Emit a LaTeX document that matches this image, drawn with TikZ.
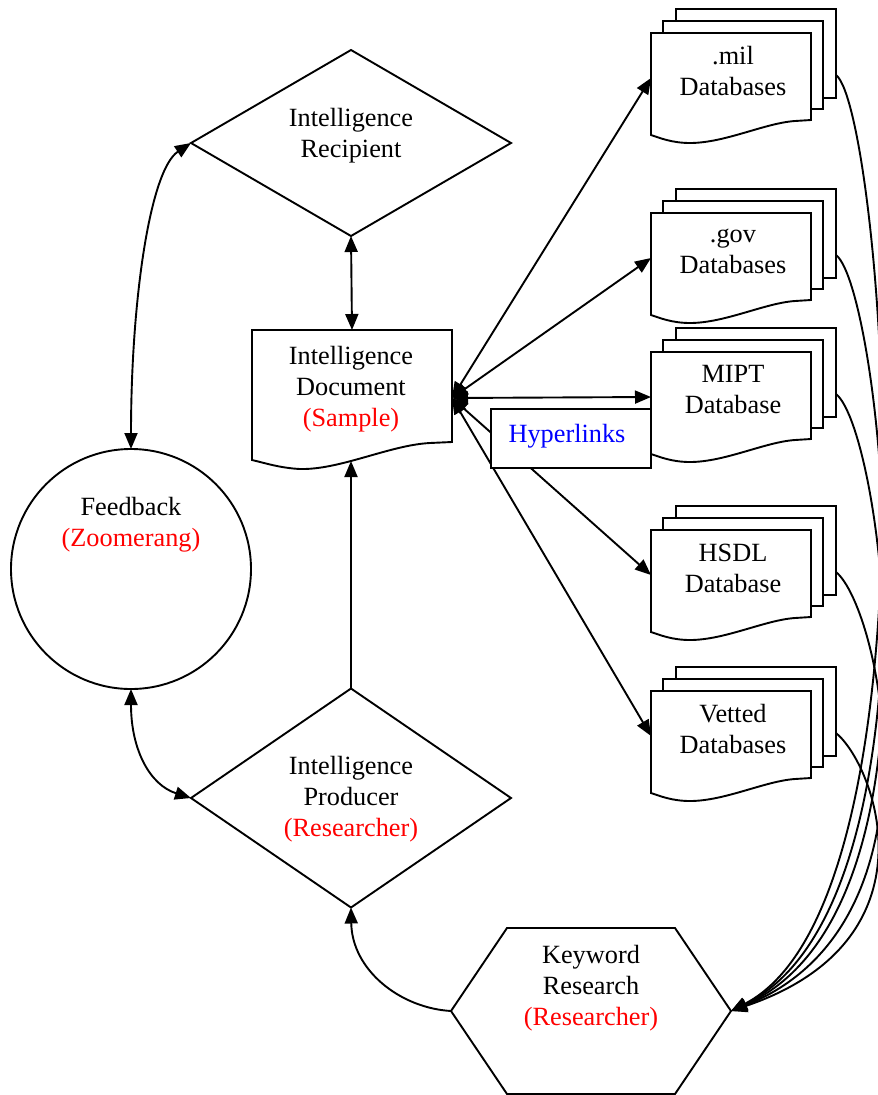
\documentclass[tikz,border=0pt]{standalone}
\usepackage{fontspec}
\setmainfont{Liberation Serif}
\usetikzlibrary{arrows.meta,shapes.geometric}

\tikzset{
  shapeline/.style={draw=black, line width=1.9pt, fill=white, line join=miter},
  conn/.style={draw=black, line width=1.9pt},
  txt/.style={align=center, font=\fontsize{26.3}{31}\selectfont, inner sep=0pt},
  ghost/.style={inner sep=0pt, outer sep=0pt},
}

% a stack of three document pages with a caption on the front page
\newcommand\dbstack[3]{%
  \draw[shapeline] (676,{9+#2}) rectangle (836,{98+#2});
  \draw[shapeline] (663,{21+#2}) rectangle (823,{109+#2});
  \draw[shapeline] (651,{33+#2}) -- (811,{33+#2}) -- (811,{120+#2}) -- (795,{121+#2})
     .. controls (765,{123+#2}) and (725,{143+#2}) .. (690,{143+#2})
     .. controls (672,{143+#2}) and (660,{138+#2}) .. (651,{135+#2}) -- cycle;
  \node[txt] (#1) at (733,{71+#2}) {#3};
  \coordinate (#1-in) at (651,{78+#2});
  \coordinate (#1-out) at (836,{75+#2});
}

\begin{document}
\begin{tikzpicture}[x=1pt, y=-1pt, >={Triangle[length=16pt,width=13pt]}]
\path[use as bounding box, clip] (0,0) rectangle (878,1095);

% ---- shapes ----
\node[ghost, diamond, shapeline, minimum width=320pt, minimum height=186pt] (recip) at (351,143) {};
\node[txt] at (351,136) {Intelligence\\Recipient};

\node[ghost, minimum width=200pt, minimum height=130pt] (doc) at (352,395) {};
\draw[shapeline] (252,330) -- (452,330) -- (452,442) -- (430,443)
   .. controls (390,445) and (340,470) .. (300,469)
   .. controls (280,468) and (265,463) .. (252,460) -- cycle;
\node[txt] at (351,389) {Intelligence\\Document\\\textcolor{red}{(Sample)}};
\coordinate (docR) at (452,398);
\coordinate (docB) at (351,461);

\node[ghost, circle, shapeline, minimum size=240pt] (fb) at (131,569) {};
\node[txt] at (131,525) {Feedback\\\textcolor{red}{(Zoomerang)}};

\node[ghost, diamond, shapeline, minimum width=320pt, minimum height=219pt] (prod) at (351,798) {};
\node[txt] at (351,799) {Intelligence\\Producer\\\textcolor{red}{(Researcher)}};

\draw[shapeline] (451,1011) -- (507,928) -- (675,928) -- (731,1011) -- (675,1094) -- (507,1094) -- cycle;
\node[txt] (kw) at (591,988) {Keyword\\Research\\\textcolor{red}{(Researcher)}};
\coordinate (kwL) at (451,1011);
\coordinate (kwR) at (731,1011);

\dbstack{mil}{0}{.mil\\Databases}
\dbstack{gov}{180}{.gov\\Databases}
\dbstack{mipt}{319}{MIPT\\Database}
\dbstack{hsdl}{497}{HSDL\\Database}
\dbstack{vet}{658}{Vetted\\Databases}

% ---- connectors ----
\draw[conn,<->] (recip.south) -- (doc.north);
\draw[conn,->] (prod.north) -- (docB);
\draw[conn,<->] (fb.north) .. controls (131,300) and (150,170) .. (recip.west);
\draw[conn,<->] (fb.south) .. controls (131,750) and (150,785) .. (prod.west);
\draw[conn,->] (kwL) .. controls (400,1008) and (352,970) .. (prod.south);

\foreach \d in {mil,gov,mipt,hsdl,vet}
  \draw[conn,<->] (docR) -- (\d-in);

\draw[conn,->] (mil-out)  .. controls (882,110) and (945,900) .. (kwR);
\draw[conn,->] (gov-out)  .. controls (882,290) and (948,905) .. (kwR);
\draw[conn,->] (mipt-out) .. controls (882,430) and (948,915) .. (kwR);
\draw[conn,->] (hsdl-out) .. controls (880,608) and (948,925) .. (kwR);
\draw[conn,->] (vet-out)  .. controls (875,765) and (940,940) .. (kwR);

% ---- hyperlink label box on top of the fan of connectors ----
\node[shapeline, ghost, minimum width=160pt, minimum height=59pt] (hyp) at (571,438.5) {};
\node[txt, text=blue] at (567,436) {Hyperlinks};
\end{tikzpicture}
\end{document}
